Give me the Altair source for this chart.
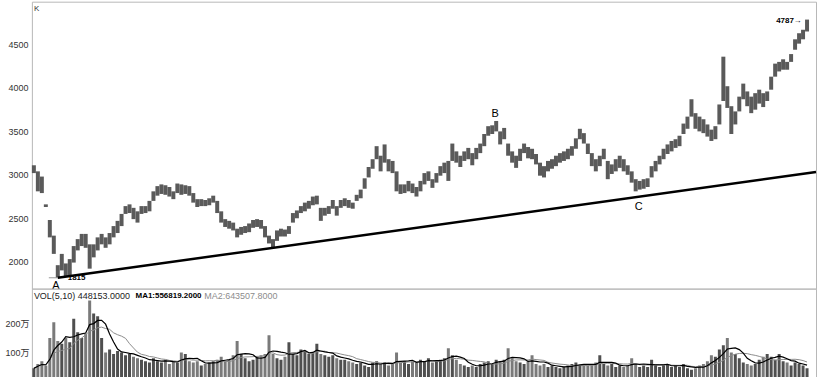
import altair as alt
import pandas as pd

# ---- price candles (low / high per period) ----
lo = [3020, 2810, 2790, 2630, 2280, 2090, 1815, 1900, 1830, 1840,
      1990, 2130, 2180, 2160, 1920, 2050, 2130, 2200, 2160, 2200,
      2280, 2330, 2410, 2550, 2560, 2490, 2450, 2550, 2560, 2580,
      2700, 2760, 2780, 2770, 2750, 2720, 2790, 2770, 2780, 2760,
      2680, 2630, 2640, 2640, 2650, 2680, 2560, 2450, 2400, 2380,
      2360, 2280, 2310, 2330, 2340, 2390, 2400, 2380, 2280, 2210,
      2160, 2240, 2290, 2290, 2320, 2450, 2500, 2560, 2580, 2610,
      2650, 2660, 2470, 2530, 2550, 2610, 2530, 2620, 2640, 2620,
      2610, 2700, 2730, 2840, 2970, 3070, 3180, 3040, 3140, 3040,
      3020, 2810, 2780, 2790, 2810, 2790, 2750, 2810, 2890, 2930,
      2850, 2910, 2990, 3020, 2930, 3160, 3140, 3090, 3160, 3180,
      3110, 3180, 3250, 3330, 3450, 3470, 3500, 3350, 3410, 3220,
      3140, 3080, 3160, 3250, 3190, 3180, 3120, 2990, 2970, 3040,
      3070, 3100, 3140, 3160, 3180, 3220, 3300, 3410, 3360, 3240,
      3100, 3040, 3100, 3180, 2950, 3010, 3040, 3080, 3040, 3000,
      2910, 2810, 2830, 2840, 2860, 2970, 3040, 3120, 3180, 3240,
      3270, 3310, 3330, 3470, 3530, 3670, 3530, 3500, 3480, 3440,
      3390, 3410, 3580, 3850, 3770, 3470, 3580, 3730, 3870, 3790,
      3710, 3750, 3820, 3780, 3850, 3980, 4130, 4190, 4210, 4210,
      4300, 4440, 4510, 4560, 4650]

hi = [3110, 3040, 2980, 2660, 2480, 2300, 1960, 2090, 1980, 2030,
      2180, 2260, 2320, 2320, 2200, 2200, 2280, 2320, 2280, 2330,
      2410, 2470, 2550, 2640, 2660, 2620, 2580, 2640, 2640, 2700,
      2810, 2870, 2890, 2880, 2860, 2810, 2900, 2890, 2880, 2870,
      2790, 2720, 2720, 2710, 2730, 2760, 2700, 2580, 2490, 2470,
      2450, 2380, 2400, 2410, 2440, 2480, 2490, 2480, 2410, 2300,
      2260, 2360, 2380, 2370, 2410, 2560, 2590, 2640, 2680, 2700,
      2750, 2760, 2620, 2620, 2640, 2710, 2640, 2710, 2730, 2710,
      2680, 2770, 2830, 2960, 3090, 3180, 3330, 3220, 3350, 3180,
      3160, 3040, 2890, 2890, 2930, 2900, 2860, 2930, 3020, 3040,
      2950, 3020, 3100, 3140, 3160, 3360, 3270, 3220, 3270, 3310,
      3250, 3310, 3360, 3470, 3560, 3570, 3620, 3500, 3540, 3360,
      3270, 3220, 3300, 3360, 3320, 3300, 3240, 3140, 3100, 3160,
      3180, 3220, 3250, 3270, 3300, 3330, 3420, 3530, 3480, 3360,
      3250, 3180, 3220, 3300, 3160, 3120, 3180, 3220, 3180, 3110,
      3040, 2950, 2930, 2950, 2960, 3100, 3160, 3220, 3300, 3350,
      3390, 3410, 3450, 3590, 3670, 3870, 3710, 3670, 3640, 3580,
      3520, 3560, 3810, 4360, 4020, 3790, 3730, 3900, 4050, 3960,
      3900, 3940, 3980, 3940, 3960, 4130, 4280, 4300, 4330, 4300,
      4390, 4560, 4630, 4670, 4787]

# ---- volume, in 万 ----
vol = [45, 60, 70, 55, 150, 205, 140, 130, 150, 135,
       217, 170, 150, 165, 280, 235, 225, 150, 100, 110,
       95, 105, 100, 90, 95, 85, 80, 75, 70, 65,
       80, 70, 65, 75, 60, 70, 65, 100, 95, 70,
       65, 70, 55, 60, 65, 70, 75, 85, 70, 75,
       90, 140, 95, 80, 70, 75, 85, 90, 95, 160,
       95, 80, 75, 85, 135, 95, 90, 110, 105, 95,
       100, 130, 95, 90, 85, 90, 80, 75, 75, 70,
       65, 60, 65, 55, 50, 65, 70, 60, 65, 55,
       60, 100, 65, 70, 60, 70, 65, 75, 70, 80,
       65, 70, 75, 80, 115, 90, 75, 60, 55, 50,
       55, 50, 60, 65, 70, 60, 75, 70, 75, 115,
       80, 70, 65, 60, 70, 90, 60, 55, 60, 50,
       55, 50, 45, 50, 55, 60, 65, 55, 60, 55,
       60, 65, 90, 60, 55, 60, 50, 55, 50, 55,
       80, 60, 50, 55, 50, 75, 55, 50, 55, 60,
       50, 55, 50, 60, 45, 40, 45, 55, 60, 70,
       90, 85, 110, 125, 150, 100, 95, 80, 65, 60,
       55, 60, 75, 85, 95, 85, 75, 95, 70, 65,
       55, 65, 60, 55, 45]

price_ticks = [2000, 2500, 3000, 3500, 4000, 4500]
vol_ticks = [100, 200]

letter_text = ["A", "B", "C"]
letter_i = [5.5, 115.75, 151.75]
letter_p = [1725, 3703, 2631]

num_text = ["1815", "4787\u2192"]
num_i = [8.5, 186.25]
num_p = [1811, 4775]

trend_i = [6, 196.25]
trend_p = [1815, 3032]

leader_i = [3.75, 6]
leader_p = [1815]

header_text = ["VOL(5,10) 448153.0000", "MA1:556819.2000", "MA2:643507.8000"]

# ---- build ----
N = len(lo)
df = pd.DataFrame({"i": list(range(N)), "lo": lo, "hi": hi, "vol": vol})

W, H1, H2 = 787, 288, 89
FONT = "Liberation Sans"
CJK = "Liberation Sans, Noto Sans CJK SC"

xs = alt.Scale(domain=[-0.5, 196.25], nice=False, zero=False)
ps = alt.Scale(domain=[1690, 4993], nice=False, zero=False)
vs = alt.Scale(domain=[14, 321], nice=False, zero=False)


def X(field="i:Q"):
    return alt.X(field, scale=xs, axis=None)


price_axis = alt.Axis(values=price_ticks, title=None, ticks=False, grid=False,
                      domain=False, labelPadding=4, labelColor="#333333", format="d",
                      labelFontSize=9, labelFont=FONT, minExtent=31, maxExtent=31)

vol_axis = alt.Axis(values=vol_ticks, title=None, ticks=False, grid=False,
                    domain=False, labelPadding=3, labelColor="#333333",
                    labelFontSize=9, labelFont=CJK, minExtent=31, maxExtent=31,
                    labelExpr="datum.value + '万'")


def PY(field):
    return alt.Y(field, scale=ps, axis=price_axis)


def VY(field):
    return alt.Y(field, scale=vs, axis=vol_axis)


candles = alt.Chart(df).mark_rule(color="#5a5a5a", strokeWidth=4).encode(
    x=X(), y=PY("lo:Q"), y2="hi:Q")

trend_df = pd.DataFrame({"i": [trend_i[0]], "i2": [trend_i[1]],
                         "p": [trend_p[0]], "p2": [trend_p[1]]})
trend = alt.Chart(trend_df).mark_rule(color="black", strokeWidth=2.5).encode(
    x=X(), x2="i2:Q", y=PY("p:Q"), y2="p2:Q")

leader_df = pd.DataFrame({"i": [leader_i[0]], "i2": [leader_i[1]], "p": leader_p})
leader = alt.Chart(leader_df).mark_rule(color="#999999", strokeWidth=1).encode(
    x=X(), x2="i2:Q", y=PY("p:Q"))

letters = alt.Chart(pd.DataFrame({"i": letter_i, "p": letter_p, "t": letter_text})).mark_text(
    font=FONT, fontSize=11, color="black", align="center", baseline="middle").encode(
    x=X(), y=PY("p:Q"), text="t:N")

nums = alt.Chart(pd.DataFrame({"i": num_i, "p": num_p, "t": num_text})).mark_text(
    font=FONT, fontSize=8, fontWeight="bold", color="black", align="left",
    baseline="middle").encode(
    x=X(), y=PY("p:Q"), text="t:N")

k_label = alt.Chart(pd.DataFrame({"t": ["K"]})).mark_text(
    font=FONT, fontSize=8, color="#333333", align="left", baseline="middle").encode(
    x=alt.value(2), y=alt.value(7.5), text="t:N")

top = alt.layer(candles, trend, leader, letters, nums, k_label).properties(width=W, height=H1)

vbars = alt.Chart(df).transform_calculate(
    mid="(datum.lo + datum.hi) / 2"
).transform_window(
    prev="lag(mid)", sort=[alt.SortField("i")]
).transform_calculate(
    shade="datum.prev == null || datum.mid >= datum.prev ? 'up' : 'down'"
).mark_rule(strokeWidth=3, clip=True).encode(
    x=X(), y=VY("vol:Q"), y2=alt.datum(0),
    color=alt.Color("shade:N", scale=alt.Scale(domain=["up", "down"],
                                               range=["#4f4f4f", "#7a7a7a"]), legend=None))

ma1 = alt.Chart(df).transform_window(
    ma1="mean(vol)", frame=[-4, 0], sort=[alt.SortField("i")]
).mark_line(color="black", strokeWidth=1.2, clip=True).encode(
    x=X(), y=VY("ma1:Q"))

ma2 = alt.Chart(df).transform_window(
    ma2="mean(vol)", frame=[-9, 0], sort=[alt.SortField("i")]
).mark_line(color="#8c8c8c", strokeWidth=1, clip=True).encode(
    x=X(), y=VY("ma2:Q"))

h0 = alt.Chart(pd.DataFrame({"t": [header_text[0]]})).mark_text(
    font=FONT, fontSize=9, color="#222222", align="left", baseline="middle").encode(
    x=alt.value(2), y=alt.value(7), text="t:N")
h1 = alt.Chart(pd.DataFrame({"t": [header_text[1]]})).mark_text(
    font=FONT, fontSize=8, fontWeight="bold", color="black", align="left", baseline="middle").encode(
    x=alt.value(104), y=alt.value(7), text="t:N")
h2 = alt.Chart(pd.DataFrame({"t": [header_text[2]]})).mark_text(
    font=FONT, fontSize=9, color="#8c8c8c", align="left", baseline="middle").encode(
    x=alt.value(173), y=alt.value(7), text="t:N")

bottom = alt.layer(vbars, ma2, ma1, h0, h1, h2).properties(width=W, height=H2)

chart = alt.vconcat(top, bottom, spacing=0, bounds="flush").properties(
    padding=0
).configure_view(stroke="#b8b8b8", strokeWidth=1)

chart.save("out.html", embed_options={"renderer": "svg", "actions": False})
